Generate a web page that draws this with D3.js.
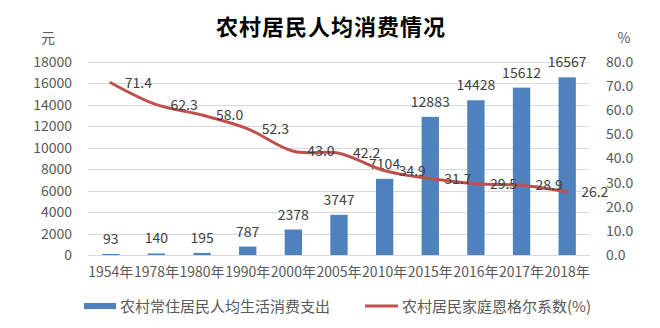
<!DOCTYPE html>
<html><head><meta charset="utf-8">
<script src="https://cdn.jsdelivr.net/npm/d3@7"></script>
<style>body{margin:0;background:#fff}</style>
</head><body>
<svg id="c" width="660" height="328"></svg>
<script>
const categories = ["1954年","1978年","1980年","1990年","2000年","2005年","2010年","2015年","2016年","2017年","2018年"];
const spending = [93,140,195,787,2378,3747,7104,12883,14428,15612,16567];
const engel = [71.4,62.3,58.0,52.3,43.0,42.2,34.9,31.7,29.5,28.9,26.2];
const leftTicks = [0,2000,4000,6000,8000,10000,12000,14000,16000,18000];
const rightTicks = [0,10,20,30,40,50,60,70,80];
const title = "农村居民人均消费情况";
const seriesNames = ["农村常住居民人均生活消费支出","农村居民家庭恩格尔系数(%)"];

const font = "'Noto Sans CJK SC', 'Noto Sans', sans-serif";
const svg = d3.select("#c");
const L = 88, R = 590, T = 62, B = 255;
const x = d3.scaleBand().domain(categories).range([L, R]).paddingInner(0.62).paddingOuter(0.31);
const yL = d3.scaleLinear().domain([0,18000]).range([B, T]);
const yR = d3.scaleLinear().domain([0,80]).range([B, T]);
const cx = d => x(d) + x.bandwidth()/2;
const FS = 14;

svg.append("text").attr("x",331).attr("y",35).attr("text-anchor","middle")
  .attr("font-family",font).attr("font-size",22).attr("font-weight",700)
  .attr("letter-spacing",1).attr("fill","#000").text(title);

// gridlines
svg.append("g").selectAll("line").data(leftTicks).join("line")
  .attr("x1",L).attr("x2",R).attr("y1",d=>Math.round(yL(d))+0.5).attr("y2",d=>Math.round(yL(d))+0.5)
  .attr("stroke","#d9d9d9").attr("stroke-width",1);

// left axis
const gl = svg.append("g").attr("transform",`translate(${L},0)`)
  .call(d3.axisLeft(yL).tickValues(leftTicks).tickSize(0).tickPadding(16).tickFormat(d3.format("d")));
gl.select(".domain").remove();
gl.selectAll("text").attr("font-family",font).attr("font-size",FS).attr("fill","#595959");

// right axis
const gr = svg.append("g").attr("transform",`translate(${R},0)`)
  .call(d3.axisRight(yR).tickValues(rightTicks).tickSize(0).tickPadding(16).tickFormat(d3.format(".1f")));
gr.select(".domain").remove();
gr.selectAll("text").attr("font-family",font).attr("font-size",FS).attr("fill","#595959");

// x axis
const gx = svg.append("g").attr("transform",`translate(0,${B})`)
  .call(d3.axisBottom(x).tickSize(0).tickPadding(12));
gx.select(".domain").remove();
gx.selectAll("text").attr("font-family",font).attr("font-size",FS).attr("fill","#595959");

// unit labels
svg.append("text").attr("x",48).attr("y",43).attr("text-anchor","middle")
  .attr("font-family",font).attr("font-size",FS).attr("fill","#595959").text("元");
svg.append("text").attr("x",624).attr("y",43).attr("text-anchor","middle")
  .attr("font-family",font).attr("font-size",FS).attr("fill","#595959").text("%");

// bars
svg.append("g").selectAll("rect").data(spending).join("rect")
  .attr("x",(d,i)=>x(categories[i])).attr("width",x.bandwidth())
  .attr("y",d=>yL(d)).attr("height",d=>B-yL(d)).attr("fill","#4f81bd");

// bar labels
svg.append("g").selectAll("text").data(spending).join("text")
  .attr("x",(d,i)=>cx(categories[i])).attr("y",d=>yL(d)-10).attr("text-anchor","middle")
  .attr("font-family",font).attr("font-size",FS).attr("fill","#404040").text(d=>d);

// line
const line = d3.line().x((d,i)=>cx(categories[i])).y(d=>yR(d)).curve(d3.curveCatmullRom.alpha(0.5));
svg.append("path").datum(engel).attr("d",line).attr("fill","none")
  .attr("stroke","#c0504d").attr("stroke-width",3).attr("stroke-linejoin","round").attr("stroke-linecap","round");

// line labels
svg.append("g").selectAll("text").data(engel).join("text")
  .attr("x",(d,i)=>cx(categories[i])+14).attr("y",d=>yR(d)).attr("dy","0.36em")
  .attr("font-family",font).attr("font-size",FS).attr("fill","#404040").text(d=>d3.format(".1f")(d));

// legend
svg.append("rect").attr("x",84).attr("y",303).attr("width",32).attr("height",6).attr("fill","#4f81bd");
svg.append("text").attr("x",120).attr("y",312).attr("font-family",font).attr("font-size",15)
  .attr("fill","#595959").text(seriesNames[0]);
svg.append("line").attr("x1",365).attr("x2",398).attr("y1",306).attr("y2",306)
  .attr("stroke","#c0504d").attr("stroke-width",3);
svg.append("text").attr("x",402).attr("y",312).attr("font-family",font).attr("font-size",15)
  .attr("fill","#595959").text(seriesNames[1]);
</script>
</body></html>
